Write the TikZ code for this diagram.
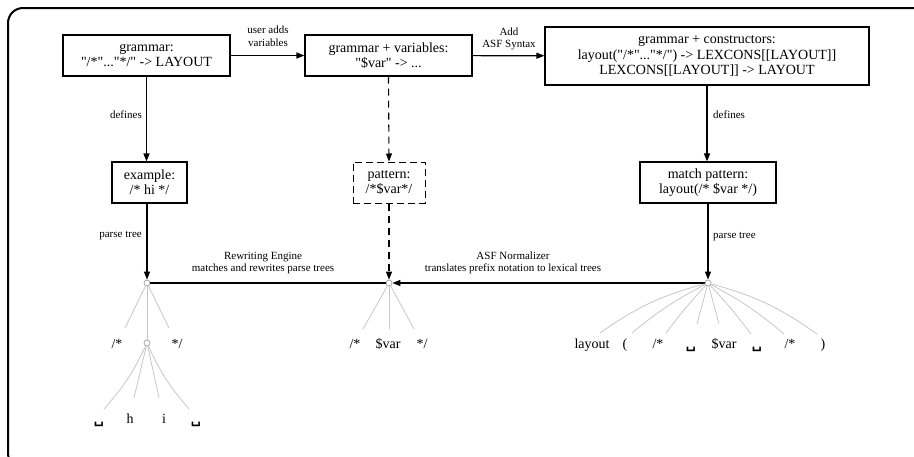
\documentclass[tikz,border=0pt]{standalone}
\usepackage{fontspec}
\setmainfont{Liberation Serif}[Ligatures=TeXOff]
\newfontfamily\symfont{DejaVu Sans}
\usetikzlibrary{arrows.meta}
\newcommand{\vsp}{{\symfont\bfseries ␣}}
\begin{document}
\begin{tikzpicture}[x=1pt,y=-1pt,
 box/.style={draw,line width=1.1pt,align=center,inner sep=0pt,font=\fontsize{14}{15}\selectfont},
 dbox/.style={box,line width=1pt,dash pattern=on 7pt off 4pt},
 lbl/.style={font=\fontsize{11}{12.5}\selectfont,align=center,inner sep=1pt},
 leaf/.style={font=\fontsize{14}{15}\selectfont,inner sep=0pt,anchor=base},
 rt/.style={circle,draw=black!35,fill=white,line width=0.8pt,minimum size=6pt,inner sep=0pt},
 arr/.style={line width=1.2pt,-{Triangle[length=8pt,width=6pt]}},
 darr/.style={arr,line width=1.1pt,dash pattern=on 7pt off 5pt},
 br/.style={draw=black!22,line width=0.8pt}]
\useasboundingbox (0,0) rectangle (914,456);
\draw[line width=2pt,rounded corners=15pt] (8,8) rectangle (929,468);

% boxes
\node[box,minimum width=167pt,minimum height=41pt] (g1) at (146.5,55.5) {grammar:\\"/*"..."*/" -> LAYOUT};
\node[box,minimum width=167pt,minimum height=41pt] (g2) at (388.5,55.5) {grammar + variables:\\"\$var" -> ...};
\node[box,minimum width=324pt,minimum height=58pt,font=\fontsize{14}{15.5}\selectfont] (g3) at (707,56) {grammar + constructors:\\layout("/*"..."*/") -> LEXCONS[[LAYOUT]]\\LEXCONS[[LAYOUT]] -> LAYOUT};
\node[box,minimum width=75pt,minimum height=41pt] (ex) at (149.5,182.5) {example:\\/* hi */};
\node[dbox,minimum width=72pt,minimum height=41pt] (pat) at (389,182.5) {pattern:\\/*\$var*/};
\node[box,minimum width=136pt,minimum height=41pt] (mp) at (708,182.5) {match pattern:\\layout(/* \$var */)};

% labels
\node[lbl] (l1) at (268,36) {user adds\\variables};
\node[lbl] (l2) at (509,39) {Add\\ASF Syntax};
\node[lbl,anchor=east] (l3) at (143,115) {defines};
\node[lbl,anchor=west] (l4) at (712,115) {defines};
\node[lbl,anchor=east] (l5) at (143,236) {parse tree};
\node[lbl,anchor=west] (l6) at (712,237) {parse tree};
\node[lbl] (l7) at (263,263) {Rewriting Engine\\matches and rewrites parse trees};
\node[lbl] (l8) at (513,263) {ASF Normalizer\\translates prefix notation to lexical trees};

% tree roots
\node[rt] (r1) at (147,283) {};
\node[rt] (r2) at (389,283) {};
\node[rt] (r3) at (708,283) {};
\node[rt] (s1) at (147,343) {};

% connectors
\draw[arr] (g1) -- (g2);
\draw[arr] (g2) -- (g3);
\draw[arr] (g1.south) -- (g1.south |- ex.north);
\draw[arr] (ex.south -| r1) -- (r1);
\draw[darr] (g2.south) -- (pat.north);
\draw[darr] (pat.south) -- (r2);
\draw[arr] (g3.south) -- (g3.south |- mp.north);
\draw[arr] (mp.south -| r3) -- (r3);
\draw[line width=1.2pt] (r1) -- (r2);
\draw[arr] (r3) -- (r2);

% tree 1
\node[leaf] (t1a) at (117,348) {/*};
\node[leaf] (t1b) at (177,348) {*/};
\coordinate (e1a) at (125,328);
\coordinate (e1b) at (169,328);
\draw[br] (r1) -- (e1a);
\draw[br] (r1) -- (s1);
\draw[br] (r1) -- (e1b);
\node[leaf] (u1) at (99,423) {\vsp};
\node[leaf] (th) at (130,423) {h};
\node[leaf] (ti) at (164,423) {i};
\node[leaf] (u2) at (196,423) {\vsp};
\coordinate (e1c) at (104,409);
\coordinate (e1d) at (134,398);
\coordinate (e1e) at (159,398);
\coordinate (e1f) at (189,409);
\draw[br] (s1) to[bend left=8] (e1c);
\draw[br] (s1) -- (e1d);
\draw[br] (s1) -- (e1e);
\draw[br] (s1) to[bend right=8] (e1f);

% tree 2
\node[leaf] (t2a) at (355,348) {/*};
\node[leaf] (t2b) at (388,348) {\$var};
\node[leaf] (t2c) at (422,348) {*/};
\coordinate (e2a) at (363,329);
\coordinate (e2b) at (389,329);
\coordinate (e2c) at (414,329);
\draw[br] (r2) -- (e2a);
\draw[br] (r2) -- (e2b);
\draw[br] (r2) -- (e2c);

% tree 3
\node[leaf] (t3a) at (592,348) {layout};
\node[leaf] (t3b) at (625,348) {(};
\node[leaf] (t3c) at (658,348) {/*};
\node[leaf] (t3d) at (691,348) {\vsp};
\node[leaf] (t3e) at (724,348) {\$var};
\node[leaf] (t3f) at (757,348) {\vsp};
\node[leaf] (t3g) at (790,348) {/*};
\node[leaf] (t3h) at (823,348) {)};
\coordinate (e3a) at (600,333);
\coordinate (e3b) at (632,333);
\coordinate (e3c) at (666,333);
\coordinate (e3d) at (697,324);
\coordinate (e3e) at (719,324);
\coordinate (e3f) at (751,334);
\coordinate (e3g) at (784,334);
\coordinate (e3h) at (817,334);
\draw[br] (r3) to[bend right=10] (e3a);
\draw[br] (r3) to[bend right=6] (e3b);
\draw[br] (r3) to[bend right=3] (e3c);
\draw[br] (r3) -- (e3d);
\draw[br] (r3) -- (e3e);
\draw[br] (r3) to[bend left=3] (e3f);
\draw[br] (r3) to[bend left=6] (e3g);
\draw[br] (r3) to[bend left=10] (e3h);
\end{tikzpicture}
\end{document}
